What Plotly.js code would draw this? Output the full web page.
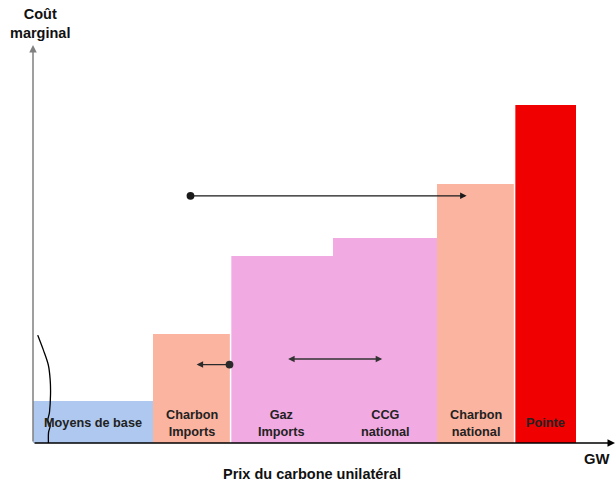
<!DOCTYPE html>
<html>
<head>
<meta charset="utf-8">
<script src="https://cdn.plot.ly/plotly-3.0.1.min.js"></script>
<style>
  html, body { margin: 0; padding: 0; background: #ffffff; }
  #chart { width: 616px; height: 488px; }
</style>
</head>
<body>
<div id="chart"></div>
<script>
// Merit order: each block of generation capacity (GW) at its marginal cost
const categories = ["Moyens de base", "Charbon<br>Imports", "Gaz<br>Imports", "CCG<br>national", "Charbon<br>national", "Pointe"];
const capacity = [30, 19.4, 25.6, 26, 19.4, 15.25];
const marginalCost = [10.55, 27.4, 47, 51.5, 65, 85];
const blockColors = ["#aec8f0", "#fbb4a0", "#f2aae2", "#f2aae2", "#fbb4a0", "#f00000"];

// Shifts of the merit order under a unilateral carbon price
const shiftFrom = [[39, 62.1], [49.5, 19.7]];
const shiftTo = [[108.4, 62.1], [40.9, 19.7]];
const spreadFrom = [63.4, 21.1];
const spreadTo = [87.3, 21.1];

// Hand-drawn break line on the base block
const breakX = [1.18, 2.58, 3.83, 4.3, 4.38, 4.13, 3.7, 4.3, 3.88, 3.85];
const breakY = [27.1, 23.4, 19.6, 15.8, 12.1, 7.8, 5.7, 4.4, 2.6, 0];

const xMax = 145.5, yMax = 100;

// Cumulative position of each block
const starts = [];
let acc = 0;
capacity.forEach(c => { starts.push(acc); acc += c; });
const centers = starts.map((s, i) => s + capacity[i] / 2);

const font = "Liberation Sans, Arial, sans-serif";

const traces = [
  {
    type: "bar",
    x: centers,
    y: marginalCost,
    width: capacity,
    marker: { color: blockColors, line: { width: 0 } },
    hoverinfo: "skip",
    showlegend: false
  }
];

// Smooth path (Catmull-Rom as cubic Béziers) through the break-line points, in axis units
function smoothPath(xs, ys) {
  let d = "M" + xs[0] + "," + ys[0];
  for (let i = 0; i < xs.length - 1; i++) {
    const i0 = Math.max(0, i - 1), i3 = Math.min(xs.length - 1, i + 2);
    const c1x = xs[i] + (xs[i + 1] - xs[i0]) / 6, c1y = ys[i] + (ys[i + 1] - ys[i0]) / 6;
    const c2x = xs[i + 1] - (xs[i3] - xs[i]) / 6, c2y = ys[i + 1] - (ys[i3] - ys[i]) / 6;
    d += " C" + c1x + "," + c1y + " " + c2x + "," + c2y + " " + xs[i + 1] + "," + ys[i + 1];
  }
  return d;
}

// Thin white separators where a block steps up next to a different one
const shapes = [2, 5].map(i => ({
  type: "line",
  xref: "x", yref: "y",
  x0: starts[i], x1: starts[i],
  y0: 0, y1: Math.max(marginalCost[i], marginalCost[i - 1]),
  line: { color: "#ffffff", width: 1.5 }
}));
shapes.push({
  type: "path", xref: "x", yref: "y", layer: "above",
  path: smoothPath(breakX, breakY),
  line: { color: "#000000", width: 1.3 }
});

const annotations = [];

// Axes drawn as arrows
annotations.push({
  x: 0, y: yMax, ax: 0, ay: 0, xref: "x", yref: "y", axref: "x", ayref: "y",
  text: "", showarrow: true, arrowhead: 2, arrowsize: 1, arrowwidth: 1.5, arrowcolor: "#808080"
});
annotations.push({
  x: xMax, y: 0, ax: 0, ay: 0, xref: "x", yref: "y", axref: "x", ayref: "y",
  text: "", showarrow: true, arrowhead: 2, arrowsize: 1, arrowwidth: 1.5, arrowcolor: "#000000"
});

// Block labels
categories.forEach((c, i) => {
  annotations.push({
    x: centers[i], y: 5, xref: "x", yref: "y",
    text: "<b>" + c + "</b>", showarrow: false,
    font: { family: font, size: 12.7, color: "#222222" },
    xanchor: "center", yanchor: "middle", align: "center"
  });
});

// Shift arrows, each starting from a dot
shiftFrom.forEach((p, i) => {
  annotations.push({
    x: shiftTo[i][0], y: shiftTo[i][1], ax: p[0], ay: p[1],
    xref: "x", yref: "y", axref: "x", ayref: "y",
    text: "", showarrow: true, arrowside: "end+start",
    arrowhead: 2, arrowsize: 1, startarrowhead: 6, startarrowsize: 1.5,
    arrowwidth: 1.3,
    arrowcolor: i === 0 ? "#1a1a1a" : "#2a2a2a"
  });
});
annotations.push({
  x: spreadTo[0], y: spreadTo[1], ax: spreadFrom[0], ay: spreadFrom[1],
  xref: "x", yref: "y", axref: "x", ayref: "y",
  text: "", showarrow: true, arrowhead: 2, startarrowhead: 2, arrowside: "end+start",
  arrowsize: 1, startarrowsize: 1, arrowwidth: 1.3, arrowcolor: "#333333"
});

// Axis captions (paper coordinates: plot spans x 33..615 px, y 45..443 px)
const px = v => (v - 33) / 582;
const py = v => (443 - v) / 398;
annotations.push({
  x: px(40), y: py(23), xref: "paper", yref: "paper", xanchor: "center", yanchor: "middle",
  text: "<b>Coût<br>marginal</b>", showarrow: false, align: "center",
  font: { family: font, size: 14.5, color: "#111111" }
});
annotations.push({
  x: px(597), y: py(459), xref: "paper", yref: "paper",
  xanchor: "center", yanchor: "middle",
  text: "<b>GW</b>", showarrow: false,
  font: { family: font, size: 14.8, color: "#111111" }
});
annotations.push({
  x: px(312), y: py(474), xref: "paper", yref: "paper",
  xanchor: "center", yanchor: "middle",
  text: "<b>Prix du carbone unilatéral</b>", showarrow: false,
  font: { family: font, size: 14.5, color: "#111111" }
});

const layout = {
  width: 616,
  height: 488,
  margin: { l: 33, r: 1, t: 45, b: 45, pad: 0 },
  paper_bgcolor: "#ffffff",
  plot_bgcolor: "#ffffff",
  bargap: 0,
  xaxis: {
    range: [0, xMax], showgrid: false, zeroline: false, showline: false,
    showticklabels: false, ticks: "", fixedrange: true
  },
  yaxis: {
    range: [0, yMax], showgrid: false, zeroline: false, showline: false,
    showticklabels: false, ticks: "", fixedrange: true
  },
  shapes: shapes,
  annotations: annotations,
  showlegend: false
};

Plotly.newPlot("chart", traces, layout, { staticPlot: true, displayModeBar: false });
</script>
</body>
</html>
